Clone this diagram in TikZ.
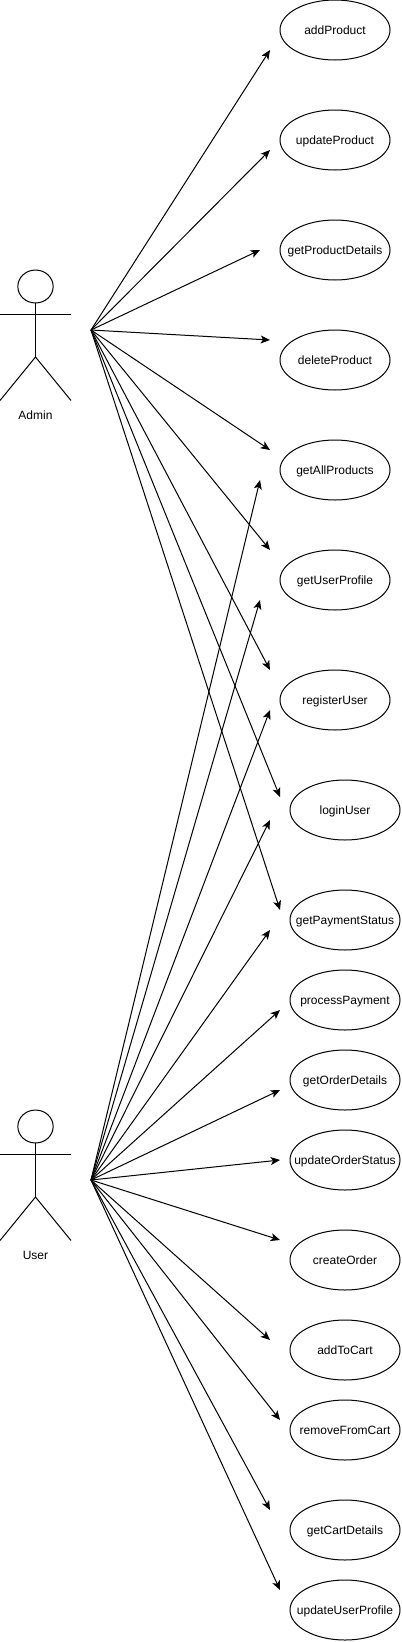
\documentclass[tikz,border=0pt]{standalone}
\usepackage{fontspec}
\setmainfont{Liberation Sans}
\usetikzlibrary{arrows.meta,shapes.geometric}
\tikzset{
  usecase/.style={draw=black,ellipse,line width=0.75pt,minimum width=82.5pt,minimum height=45pt,inner sep=0pt,outer sep=0pt,font=\fontsize{9}{11}\selectfont,text=black},
  actorline/.style={draw=black,line width=0.75pt},
  actorhead/.style={draw=black,ellipse,line width=0.75pt,minimum width=26.5pt,minimum height=24.7pt,inner sep=0pt,outer sep=0pt},
  actorlabel/.style={inner sep=0pt,font=\fontsize{9}{11}\selectfont,text=black},
  link/.style={draw=black,line width=0.75pt,-{Stealth[length=7pt,width=6pt,inset=1.8pt]}}
}
\newcommand{\actorfig}[3]{%
  % #1 name, #2 top y, #3 label
  \node[actorhead] (#1head) at (35.5,#2+16.5) {};
  \coordinate (#1hip) at (35.5,#2+87);
  \coordinate (#1armL) at (0,#2+44);
  \coordinate (#1armR) at (71,#2+44);
  \coordinate (#1legL) at (0,#2+130.5);
  \coordinate (#1legR) at (71,#2+130.5);
  \draw[actorline] (#1head.south) -- (#1hip);
  \draw[actorline] (#1armL) -- (#1armR);
  \draw[actorline] (#1legL) -- (#1hip) -- (#1legR);
  \node[actorlabel] (#1label) at (35.5,#2+145.5) {#3};
}
\newcommand{\usecasenode}[3]{%
  % #1 name and text, #2 x, #3 y
  \node[usecase] (#1) at (#2,#3) {\raisebox{-3.2pt}[0pt][0pt]{\makebox[0pt][c]{#1}}};
}
\begin{document}
\begin{tikzpicture}[x=0.75pt,y=-0.75pt]
\useasboundingbox (0,0) rectangle (401,1642);
\actorfig{admin}{270}{Admin}
\actorfig{user}{1110}{User}
\coordinate (adminsrc) at (91,330);
\coordinate (usersrc) at (91,1180);
\usecasenode{addProduct}{335}{30}
\usecasenode{updateProduct}{335}{140}
\usecasenode{getProductDetails}{335}{250}
\usecasenode{deleteProduct}{335}{360}
\usecasenode{getAllProducts}{335}{470}
\usecasenode{getUserProfile}{335}{580}
\usecasenode{registerUser}{335}{700}
\usecasenode{loginUser}{345}{810}
\usecasenode{getPaymentStatus}{345}{920}
\usecasenode{processPayment}{345}{1000}
\usecasenode{getOrderDetails}{345}{1080}
\usecasenode{updateOrderStatus}{345}{1160}
\usecasenode{createOrder}{345}{1260}
\usecasenode{addToCart}{345}{1350}
\usecasenode{removeFromCart}{345}{1430}
\usecasenode{getCartDetails}{345}{1530}
\usecasenode{updateUserProfile}{345}{1610}
\foreach \n/\x/\y in {a1/270/50,a2/270/150,a3/260/250,a4/270/340,a5/270/450,a6/270/550,a7/270/670,a8/280/797,a9/280/910}
  \coordinate (\n) at (\x,\y);
\foreach \n/\x/\y in {u1/260/480,u2/260/600,u3/270/710,u4/270/820,u5/270/930,u6/280/1010,u7/280/1090,u8/280/1160,u9/280/1240,u10/270/1340,u11/280/1420,u12/270/1510,u13/280/1590}
  \coordinate (\n) at (\x,\y);
\foreach \n in {a1,a2,a3,a4,a5,a6,a7,a8,a9}
  \draw[link] (adminsrc) -- (\n);
\foreach \n in {u1,u2,u3,u4,u5,u6,u7,u8,u9,u10,u11,u12,u13}
  \draw[link] (usersrc) -- (\n);
\end{tikzpicture}
\end{document}
